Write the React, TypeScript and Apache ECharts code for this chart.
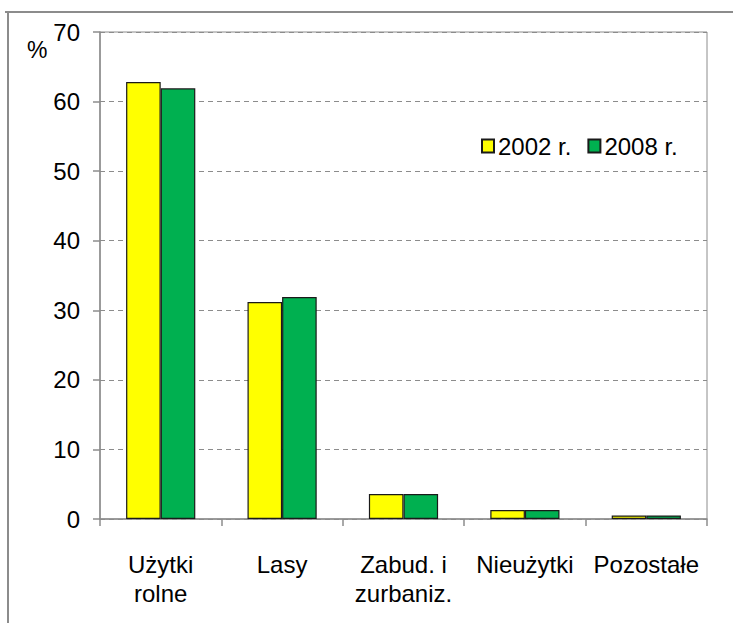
import React, { useEffect, useRef } from "react";
import * as echarts from "echarts";

const categories = ["Użytki\nrolne", "Lasy", "Zabud. i\nzurbaniz.", "Nieużytki", "Pozostałe"];
const values2002 = [62.8, 31.2, 3.6, 1.3, 0.5];
const values2008 = [61.9, 31.9, 3.6, 1.3, 0.5];
const seriesNames = ["2002 r.", "2008 r."];

const FONT = "'Liberation Sans', Arial, sans-serif";

export default function App() {
  const ref = useRef<HTMLDivElement>(null);
  useEffect(() => {
    if (!ref.current) return;
    const chart = echarts.init(ref.current, undefined, { renderer: "svg" });
    chart.setOption({
      animation: false,
      backgroundColor: "#ffffff",
      textStyle: { fontFamily: FONT },
      grid: {
        left: 100,
        right: 26,
        top: 32,
        bottom: 104,
        show: true,
        borderColor: "#8c8c8c",
        borderWidth: 1,
      },
      legend: {
        left: 476,
        top: 129,
        itemWidth: 12,
        itemHeight: 13,
        itemGap: 16,
        icon: "rect",
        textStyle: { fontSize: 24, color: "#000", fontFamily: FONT, padding: [0, 0, 0, -1] },
        data: seriesNames,
      },
      xAxis: {
        type: "category",
        data: categories,
        axisLine: { show: true, lineStyle: { color: "#8c8c8c", width: 1.5 } },
        axisTick: { show: true, length: 7, lineStyle: { color: "#8c8c8c", width: 1.5 } },
        axisLabel: {
          color: "#000",
          fontSize: 24,
          lineHeight: 29,
          margin: 31,
          fontFamily: FONT,
          interval: 0,
        },
      },
      yAxis: {
        type: "value",
        min: 0,
        max: 70,
        interval: 10,
        axisLine: { show: true, lineStyle: { color: "#8c8c8c", width: 1.5 } },
        axisTick: { show: true, length: 7, lineStyle: { color: "#8c8c8c", width: 1.5 } },
        axisLabel: { color: "#000", fontSize: 24, margin: 20, fontFamily: FONT },
        splitLine: { show: true, lineStyle: { color: "#8c8c8c", type: [5, 4], width: 1 } },
      },
      graphic: [
        {
          type: "text",
          left: 27,
          top: 38,
          style: { text: "%", fontSize: 23, fill: "#000", fontFamily: FONT },
        },
        {
          type: "line",
          shape: { x1: 5, y1: 12, x2: 733, y2: 12 },
          style: { stroke: "#8c8c8c", lineWidth: 2 },
        },
        {
          type: "line",
          shape: { x1: 8, y1: 12, x2: 8, y2: 623 },
          style: { stroke: "#8c8c8c", lineWidth: 2 },
        },
      ],
      series: [
        {
          name: seriesNames[0],
          type: "bar",
          data: values2002,
          barGap: "0%",
          barCategoryGap: "43%",
          itemStyle: { color: "#ffff00", borderColor: "#1a1a1a", borderWidth: 1.2 },
        },
        {
          name: seriesNames[1],
          type: "bar",
          data: values2008,
          barGap: "0%",
          barCategoryGap: "43%",
          itemStyle: { color: "#00b050", borderColor: "#1a1a1a", borderWidth: 1.2 },
        },
      ],
    });
    return () => chart.dispose();
  }, []);
  return (
    <div
      ref={ref}
      style={{ position: "absolute", left: 0, top: 0, width: 733, height: 623 }}
    />
  );
}
